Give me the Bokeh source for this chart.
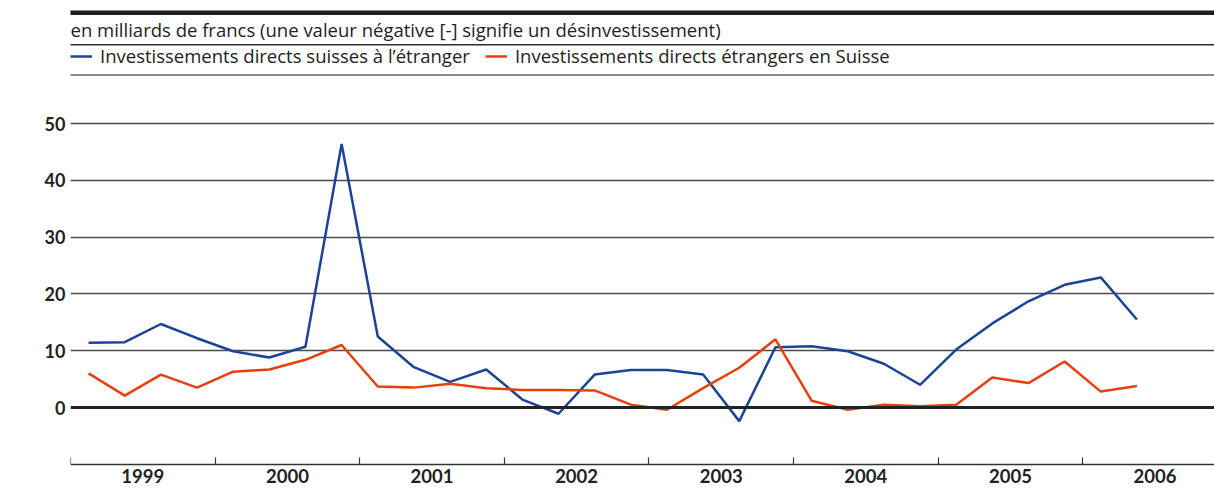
from bokeh.plotting import figure
from bokeh.models import (FixedTicker, Span, BoxAnnotation, Label, Legend,
                          LegendItem, Range1d, ColumnDataSource)
from bokeh.embed import file_html
from bokeh.resources import INLINE

# ---------------- data ----------------
years = [1999, 2000, 2001, 2002, 2003, 2004, 2005, 2006]
year_labels = ["1999", "2000", "2001", "2002", "2003", "2004", "2005", "2006"]
# quarters: 1999 T1 ... 2006 T2
period_year = [y for y in years[:-1] for _ in range(4)] + [2006, 2006]
period_quarter = [1, 2, 3, 4] * 7 + [1, 2]

swiss_abroad = [11.4, 11.5, 14.7, 12.2, 9.9, 8.8, 10.7, 46.4,
                12.5, 7.1, 4.5, 6.7, 1.4, -1.1, 5.8, 6.6,
                6.6, 5.8, -2.4, 10.6, 10.8, 9.9, 7.7, 4.0,
                10.2, 14.8, 18.7, 21.6, 22.9, 15.5]
foreign_in_ch = [6.0, 2.1, 5.8, 3.5, 6.3, 6.7, 8.4, 11.0,
                 3.7, 3.5, 4.2, 3.4, 3.1, 3.1, 3.0, 0.5,
                 -0.4, 3.4, 7.0, 12.0, 1.2, -0.4, 0.5, 0.2,
                 0.5, 5.3, 4.3, 8.1, 2.8, 3.8]

y_ticks = [0, 10, 20, 30, 40, 50]

subtitle = "en milliards de francs (une valeur négative [-] signifie un désinvestissement)"
name_abroad = "Investissements directs suisses à l\u2019étranger"
name_in_ch = "Investissements directs étrangers en Suisse"

BLUE = "#1c4396"
RED = "#e8400c"
TEXT_FONT = "Open Sans"
NUM_FONT = "Lato"

# position of each quarter inside its year band (year label sits at band centre)
xpos = [y - 0.5 + (q - 0.5) / 4 for y, q in zip(period_year, period_quarter)]
src = ColumnDataSource(dict(x=xpos, a=swiss_abroad, b=foreign_in_ch))

W, H = 1214, 489
LEFT = 70
YEAR_PX = 144.6
UNIT_PX = 5.68
ZERO_PX = 407

p = figure(width=W, height=H, output_backend="svg", toolbar_location=None,
           title=None,
           x_range=Range1d(1998.5, 1998.5 + (W - LEFT) / YEAR_PX),
           y_range=Range1d(-(H - ZERO_PX) / UNIT_PX, ZERO_PX / UNIT_PX),
           min_border_left=LEFT, min_border_right=0,
           min_border_top=0, min_border_bottom=0)
p.outline_line_color = None
p.background_fill_color = "white"
p.border_fill_color = "white"

# grid
p.xgrid.visible = False
p.ygrid.ticker = FixedTicker(ticks=y_ticks[1:])
p.ygrid.grid_line_color = "#4a4a4a"
p.ygrid.grid_line_width = 1.5
p.add_layout(Span(location=0, dimension="width", line_color="#222222",
                  line_width=3))

# y axis
p.yaxis.ticker = FixedTicker(ticks=y_ticks)
p.yaxis.axis_line_color = None
p.yaxis.major_tick_line_color = None
p.yaxis.minor_tick_line_color = None
p.yaxis.major_tick_in = 0
p.yaxis.major_tick_out = 0
p.yaxis.major_label_standoff = 5
p.yaxis.major_label_text_font = NUM_FONT
p.yaxis.major_label_text_font_style = "bold"
p.yaxis.major_label_text_font_size = "18px"
p.yaxis.major_label_text_color = "#222222"

# x axis
p.xaxis.fixed_location = -10
p.xaxis.ticker = FixedTicker(ticks=years, minor_ticks=[y - 0.5 for y in years])
p.xaxis.major_label_overrides = {y: l for y, l in zip(years, year_labels)}
p.xaxis.axis_line_color = "#333333"
p.xaxis.axis_line_width = 1.5
p.xaxis.major_tick_line_color = None
p.xaxis.major_tick_in = 0
p.xaxis.major_tick_out = 0
p.xaxis.minor_tick_line_color = "#333333"
p.xaxis.minor_tick_line_width = 1.2
p.xaxis.minor_tick_in = 7
p.xaxis.minor_tick_out = 0
p.xaxis.major_label_standoff = 5
p.xaxis.major_label_text_font = NUM_FONT
p.xaxis.major_label_text_font_style = "bold"
p.xaxis.major_label_text_font_size = "18.5px"
p.xaxis.major_label_text_color = "#222222"

# series
r1 = p.line("x", "a", source=src, line_color=BLUE, line_width=2.5)
r2 = p.line("x", "b", source=src, line_color=RED, line_width=2.5)

# header rules (screen units relative to the frame's bottom-left corner)
def rule(top_px, bottom_px, color):
    p.add_layout(BoxAnnotation(left=-(LEFT - 9), right=W - LEFT,
                               top=H - top_px, bottom=H - bottom_px,
                               left_units="screen", right_units="screen",
                               top_units="screen", bottom_units="screen",
                               fill_color=color, fill_alpha=1,
                               line_color=None))

rule(10, 14.5, "#1e1e1e")
rule(43.5, 45, "#2e2e2e")
rule(73.5, 75.5, "#8a8a8a")

p.add_layout(Label(x=0, y=H - 29, x_units="screen", y_units="screen",
                   text=subtitle, text_font=TEXT_FONT, text_font_size="18.5px",
                   text_color="#222222", text_baseline="middle",
                   text_align="left"))

legend = Legend(items=[LegendItem(label=name_abroad, renderers=[r1]),
                       LegendItem(label=name_in_ch, renderers=[r2])],
                orientation="horizontal", location=(0, H - 68),
                padding=0, margin=0, spacing=15, glyph_width=22,
                glyph_height=20, label_height=20, label_standoff=8,
                border_line_color=None, background_fill_alpha=0,
                label_text_font=TEXT_FONT, label_text_font_size="18.5px",
                label_text_color="#222222")
p.add_layout(legend)

open("out.html", "w").write(file_html(p, INLINE))
